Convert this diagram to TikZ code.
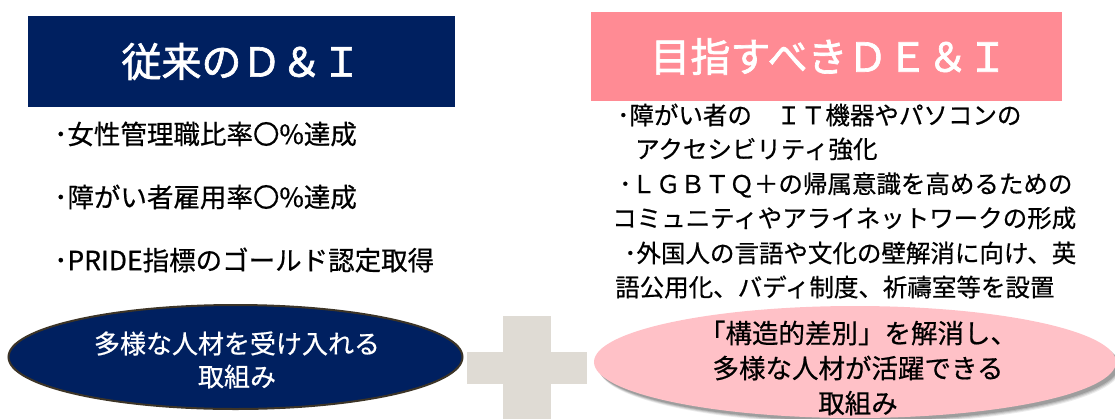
\documentclass[tikz,border=0pt]{standalone}
\usepackage{fontspec}
\setmainfont{Noto Sans CJK JP}[FakeBold=0.6]
\newfontfamily\titlefont{Noto Sans CJK JP}[FakeBold=1.6]
\usetikzlibrary{shapes.geometric}
\definecolor{navy}{HTML}{002060}
\definecolor{titlepink}{HTML}{FF8B94}
\definecolor{ellpink}{HTML}{FFC1C7}
\definecolor{plusgray}{HTML}{DFDBD4}
\definecolor{ellborder}{HTML}{3C3427}
\tikzset{
  titlebox/.style={inner sep=0},
  titletext/.style={inner sep=0, text=white, font=\titlefont\fontsize{40}{48}\selectfont},
  leftitem/.style={anchor=west, inner sep=0, font=\fontsize{26.5}{32}\selectfont},
  rightitem/.style={anchor=west, inner sep=0, font=\fontsize{24.5}{30}\selectfont},
  elltext/.style={inner sep=0, align=center},
}
\begin{document}
\begin{tikzpicture}[x=1pt,y=-1pt]
\useasboundingbox (0,0) rectangle (1115,418);
% title boxes
\node[titlebox, fill=navy, minimum width=427, minimum height=91] (t1) at (241.5,61.5) {};
\node[titletext] (t1t) at (t1.center) {従来のＤ＆Ｉ};
\node[titlebox, fill=titlepink, minimum width=471, minimum height=89] (t2) at (826.5,56.5) {};
\node[titletext] (t2t) at (829,56.5) {目指すべきＤＥ＆Ｉ};
% left items
\node[leftitem] (l1) at (54,134) {･女性管理職比率〇\%達成};
\node[leftitem] (l2) at (54,197) {･障がい者雇用率〇\%達成};
\node[leftitem] (l3) at (54,260) {･PRIDE指標のゴールド認定取得};
% right items
\node[rightitem] (r1) at (617,115) {･障がい者の　ＩＴ機器やパソコンの};
\node[rightitem] (r2) at (635,149) {アクセシビリティ強化};
\node[rightitem] (r3) at (619,185) {･ＬＧＢＴＱ＋の帰属意識を高めるための};
\node[rightitem] (r4) at (612,218) {コミュニティやアライネットワークの形成};
\node[rightitem] (r5) at (624,253) {･外国人の言語や文化の壁解消に向け、英};
\node[rightitem] (r6) at (615,287) {語公用化、バディ制度、祈禱室等を設置};
% plus
\fill[plusgray] (503,316) rectangle (551,420);
\fill[plusgray] (467,352) rectangle (587,384);
% left ellipse
\node[ellipse, draw=ellborder, line width=2, fill=navy, minimum width=454, minimum height=104] (e1) at (235.5,357) {};
\node[elltext, text=white, font=\fontsize{26}{33}\selectfont] (e1t) at (237,360) {多様な人材を受け入れる\\取組み};
% right ellipse with soft shadow
\foreach \o/\a in {5/0.08,4/0.1,3/0.12,2/0.15}
  \fill[black, opacity=\a] (857+\o*0.6,363+\o) ellipse [x radius=261, y radius=56];
\node[ellipse, fill=ellpink, minimum width=522, minimum height=112] (e2) at (855,362) {};
\node[elltext, text=black, font=\fontsize{26.5}{35}\selectfont] (e2t) at (858,368) {「構造的差別」を解消し、\\多様な人材が活躍できる\\取組み};
\end{tikzpicture}
\end{document}
